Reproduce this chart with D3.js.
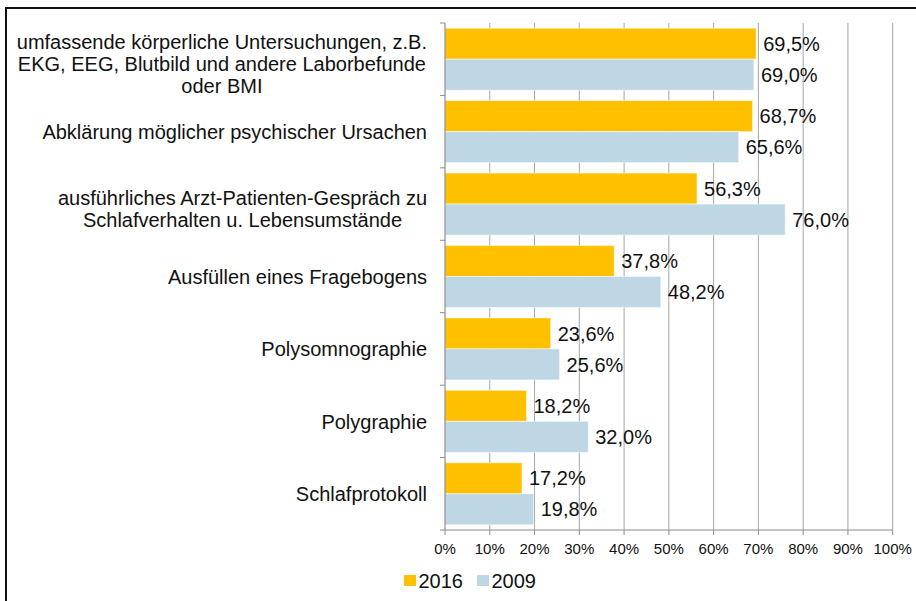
<!DOCTYPE html>
<html>
<head>
<meta charset="utf-8">
<script src="https://cdn.jsdelivr.net/npm/d3@7"></script>
<style>
  html, body { margin: 0; padding: 0; background: #fff; }
  svg { display: block; font-family: "Liberation Sans", Arial, sans-serif; }
</style>
</head>
<body>
<svg id="chart" width="916" height="601"></svg>
<script>
// Diagnostic methods (each label may span several lines)
const categories = [
  ["umfassende körperliche Untersuchungen, z.B.", "EKG, EEG, Blutbild und andere Laborbefunde", "oder BMI"],
  ["Abklärung möglicher psychischer Ursachen"],
  ["ausführliches Arzt-Patienten-Gespräch zu", "Schlafverhalten u. Lebensumstände"],
  ["Ausfüllen eines Fragebogens"],
  ["Polysomnographie"],
  ["Polygraphie"],
  ["Schlafprotokoll"]
];
const seriesNames = ["2016", "2009"];
const values2016 = [69.5, 68.7, 56.3, 37.8, 23.6, 18.2, 17.2];
const values2009 = [69.0, 65.6, 76.0, 48.2, 25.6, 32.0, 19.8];
const xTicks = [0, 10, 20, 30, 40, 50, 60, 70, 80, 90, 100];
const colors = { "2016": "#FFC000", "2009": "#BFD7E4" };

const svg = d3.select("#chart");
const fmt = v => d3.format(".1f")(v).replace(".", ",") + "%";

// Outer frame
svg.append("rect")
  .attr("x", 6).attr("y", 8).attr("width", 1000).attr("height", 700)
  .attr("fill", "none").attr("stroke", "#111").attr("stroke-width", 2);

const plot = { left: 445, right: 892.7, top: 23, bottom: 530 };

const x = d3.scaleLinear().domain([0, 100]).range([plot.left, plot.right]);
const y = d3.scaleBand().domain(d3.range(categories.length)).range([plot.top, plot.bottom]).padding(0);
const ySub = d3.scaleBand().domain(seriesNames).range([0, y.bandwidth()]).paddingInner(0).paddingOuter(0.168);

// Vertical gridlines
svg.append("g").selectAll("line").data(xTicks.slice(1)).join("line")
  .attr("x1", d => x(d)).attr("x2", d => x(d))
  .attr("y1", plot.top).attr("y2", plot.bottom)
  .attr("stroke", "#a6a6a6").attr("stroke-width", 1);

// Bars
const rows = categories.map((c, i) => ({ i, "2016": values2016[i], "2009": values2009[i] }));
const g = svg.append("g");
seriesNames.forEach(s => {
  g.selectAll(null).data(rows).join("rect")
    .attr("x", x(0))
    .attr("y", d => y(d.i) + ySub(s))
    .attr("width", d => x(d[s]) - x(0))
    .attr("height", ySub.bandwidth())
    .attr("fill", colors[s])
    .attr("stroke", "rgba(255,255,255,0.5)").attr("stroke-width", 1);
  g.selectAll(null).data(rows).join("text")
    .attr("x", d => x(d[s]) + 7)
    .attr("y", d => y(d.i) + ySub(s) + ySub.bandwidth() / 2)
    .attr("dy", "0.36em")
    .attr("font-size", 20).attr("fill", "#111")
    .text(d => fmt(d[s]));
});

// Category axis (left)
const yAxis = svg.append("g");
yAxis.append("line")
  .attr("x1", plot.left).attr("x2", plot.left)
  .attr("y1", plot.top).attr("y2", plot.bottom)
  .attr("stroke", "#8c8c8c").attr("stroke-width", 1.2);
yAxis.selectAll("line.tick").data(d3.range(categories.length + 1)).join("line")
  .attr("class", "tick")
  .attr("x1", plot.left - 5).attr("x2", plot.left)
  .attr("y1", d => plot.top + d * y.step()).attr("y2", d => plot.top + d * y.step())
  .attr("stroke", "#8c8c8c");
categories.forEach((lines, i) => {
  const cy = y(i) + y.bandwidth() / 2 + (lines.length > 1 ? 4.5 : 0);
  const t = yAxis.append("text")
    .attr("text-anchor", "middle")
    .attr("font-size", 20).attr("fill", "#111");
  // wrapped labels form a centred block whose right edge meets the axis gap
  const lh = 22;
  lines.forEach((ln, k) => {
    t.append("tspan")
      .attr("x", 0)
      .attr("y", cy + (k - (lines.length - 1) / 2) * lh)
      .attr("dy", "0.36em")
      .text(ln);
  });
  const bb = t.node().getBBox();
  t.attr("transform", `translate(${427 - bb.width / 2},0)`);
});

// Value axis (bottom)
const xAxis = svg.append("g");
xAxis.append("line")
  .attr("x1", plot.left).attr("x2", plot.right)
  .attr("y1", plot.bottom).attr("y2", plot.bottom)
  .attr("stroke", "#8c8c8c").attr("stroke-width", 1.2);
xAxis.selectAll("line.tick").data(xTicks).join("line")
  .attr("class", "tick")
  .attr("x1", d => x(d)).attr("x2", d => x(d))
  .attr("y1", plot.bottom).attr("y2", plot.bottom + 5)
  .attr("stroke", "#8c8c8c");
xAxis.selectAll("text").data(xTicks).join("text")
  .attr("x", d => x(d)).attr("y", 549).attr("dy", "0.36em")
  .attr("text-anchor", "middle")
  .attr("font-size", 15).attr("fill", "#111")
  .text(d => d + "%");

// Legend
const legend = svg.append("g");
const legendX = [404, 477];
seriesNames.forEach((s, k) => {
  legend.append("rect")
    .attr("x", legendX[k]).attr("y", 575).attr("width", 12).attr("height", 11)
    .attr("fill", colors[s]);
  legend.append("text")
    .attr("x", legendX[k] + 14.5).attr("y", 581).attr("dy", "0.36em")
    .attr("font-size", 20).attr("fill", "#111")
    .text(s);
});
</script>
</body>
</html>
